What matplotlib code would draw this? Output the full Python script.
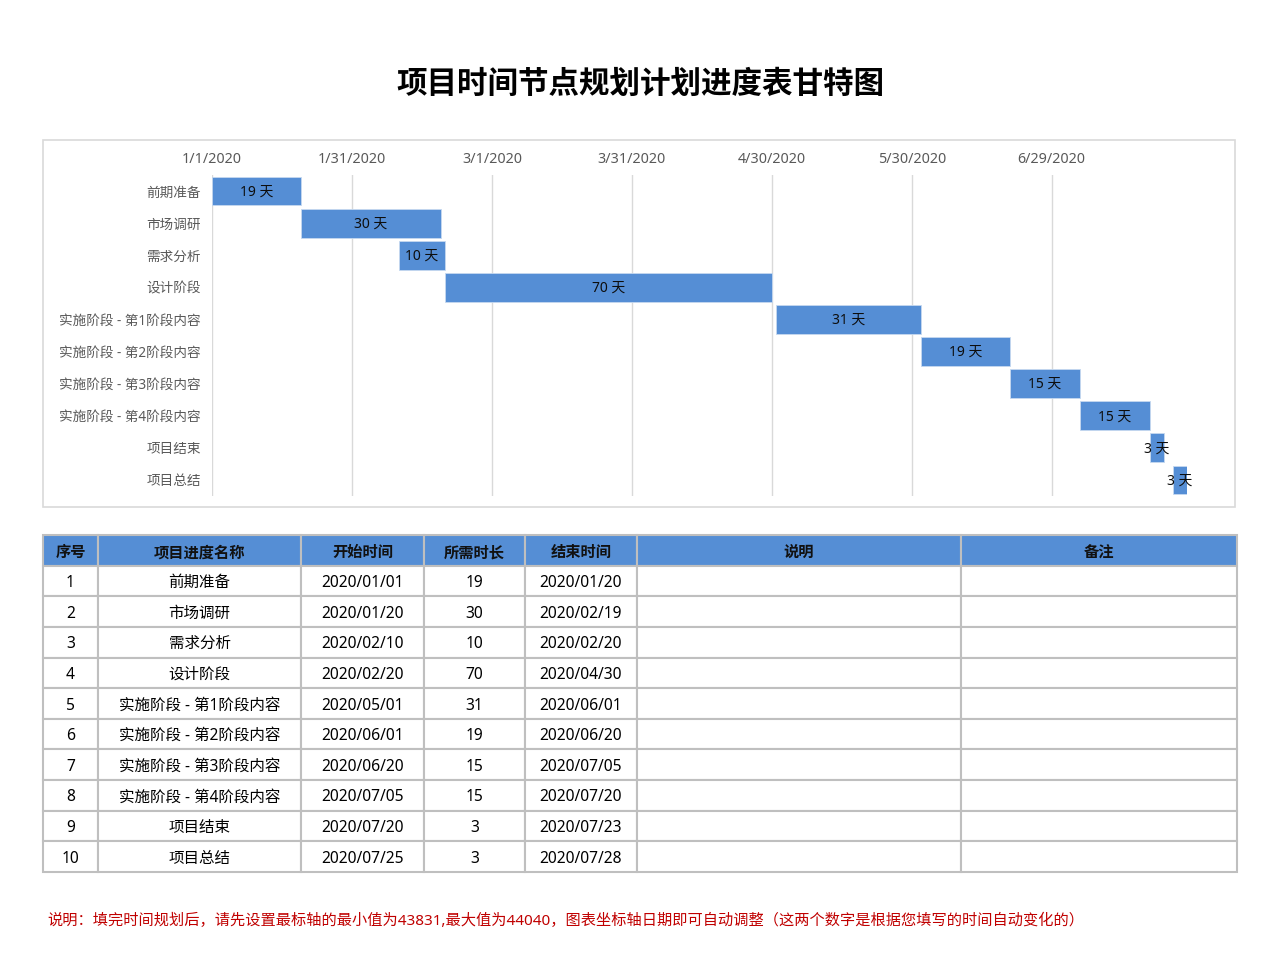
import datetime as dt

import matplotlib.pyplot as plt
import matplotlib.transforms as mtransforms
from matplotlib.patches import Rectangle


TITLE = "项目时间节点规划计划进度表甘特图"
TASKS = ["前期准备", "市场调研", "需求分析", "设计阶段",
         "实施阶段 - 第1阶段内容", "实施阶段 - 第2阶段内容",
         "实施阶段 - 第3阶段内容", "实施阶段 - 第4阶段内容",
         "项目结束", "项目总结"]
STARTS = ["2020/01/01", "2020/01/20", "2020/02/10", "2020/02/20", "2020/05/01",
          "2020/06/01", "2020/06/20", "2020/07/05", "2020/07/20", "2020/07/25"]
DURATIONS = [19, 30, 10, 70, 31, 19, 15, 15, 3, 3]
AXIS_MIN = 43831   # Excel serial of 2020/01/01
AXIS_MAX = 44040
MAJOR_UNIT = 30

HEADERS = ["序号", "项目进度名称", "开始时间", "所需时长", "结束时间", "说明", "备注"]
NOTE = ("说明：填完时间规划后，请先设置最标轴的最小值为43831,最大值为44040，"
        "图表坐标轴日期即可自动调整（这两个数字是根据您填写的时间自动变化的）")

BLUE = "#558ed5"
GRID = "#d9d9d9"
TEXT_GRAY = "#595959"

# Latin glyphs from Noto Sans, Chinese falls back to the CJK family
plt.rcParams["font.family"] = ["Noto Sans", "Noto Sans CJK SC", "DejaVu Sans"]
CJK_ONLY = ["Noto Sans CJK SC", "DejaVu Sans"]

EXCEL_EPOCH = dt.date(1899, 12, 30)


def to_serial(s):
    d = dt.datetime.strptime(s, "%Y/%m/%d").date()
    return (d - EXCEL_EPOCH).days


def serial_label(n):
    d = EXCEL_EPOCH + dt.timedelta(days=int(n))
    return f"{d.month}/{d.day}/{d.year}"


def serial_str(n):
    d = EXCEL_EPOCH + dt.timedelta(days=int(n))
    return d.strftime("%Y/%m/%d")


W, H = 1280, 977
fig = plt.figure(figsize=(W / 100, H / 100), dpi=100)
fig.patch.set_facecolor("white")

# overlay axes in pixel coordinates for frame / title / note
over = fig.add_axes([0, 0, 1, 1])
over.set_xlim(0, W)
over.set_ylim(H, 0)
over.axis("off")

over.text(640, 84, TITLE, ha="center", va="center", fontsize=22, fontweight="bold",
          color="black", family=CJK_ONLY)
over.add_patch(Rectangle((43, 140), 1192, 367, fill=False, edgecolor=GRID, linewidth=1.2))
over.text(47, 921, NOTE, ha="left", va="center", fontsize=10.95, color="#c00000")

# gantt chart
starts = [to_serial(s) for s in STARTS]
ax = fig.add_axes([212 / W, 1 - 496 / H, 975 / W, 321 / H])
ypos = list(range(len(TASKS)))
ax.barh(ypos, DURATIONS, left=starts, height=0.9, color=BLUE, edgecolor="#c6d9f0", linewidth=0.6, zorder=3)
for y, s, d in zip(ypos, starts, DURATIONS):
    ax.text(s + d / 2, y + 0.03, f"{d} 天", ha="center", va="center", fontsize=10, color="#0d0d0d", zorder=4)

ax.set_xlim(AXIS_MIN, AXIS_MAX)
ax.set_ylim(len(TASKS) - 0.5, -0.5)
ticks = list(range(AXIS_MIN, AXIS_MAX, MAJOR_UNIT))
ax.set_xticks(ticks)
ax.set_xticklabels([serial_label(t) for t in ticks])
ax.xaxis.tick_top()
ax.set_yticks(ypos)
ax.set_yticklabels(TASKS)
ax.tick_params(axis="both", length=0, colors=TEXT_GRAY)
ax.tick_params(axis="x", pad=6, labelsize=10.3)
ax.tick_params(axis="y", pad=8, labelsize=9.8)
ax.grid(axis="x", color=GRID, linewidth=1, zorder=0)
ax.set_axisbelow(True)
for spine in ax.spines.values():
    spine.set_visible(False)

# table
rows = []
for i, (name, s, d) in enumerate(zip(TASKS, STARTS, DURATIONS)):
    rows.append([str(i + 1), name, s, str(d), serial_str(to_serial(s) + d), "", ""])

col_px = [55, 203, 123, 101, 112, 324, 276]
total = sum(col_px)
tax = fig.add_axes([43 / W, 1 - 872 / H, total / W, 337 / H])
tax.axis("off")
tbl = tax.table(cellText=rows, colLabels=HEADERS, colWidths=[c / total for c in col_px],
                cellLoc="center", bbox=[0, 0, 1, 1])
tbl.auto_set_font_size(False)
nudge = mtransforms.Affine2D().translate(0, -2)
for (r, c), cell in tbl.get_celld().items():
    cell.set_edgecolor("#bfbfbf")
    cell.set_linewidth(1.5)
    txt = cell.get_text()
    txt.set_fontsize(11.2)
    txt.set_transform(nudge)
    if r == 0:
        cell.set_facecolor(BLUE)
        txt.set_fontweight("bold")
        txt.set_color("#111111")
        txt.set_family(CJK_ONLY)
        txt.set_fontsize(11)
    else:
        txt.set_color("black")

fig.savefig("out.png", dpi=100, facecolor="white")
